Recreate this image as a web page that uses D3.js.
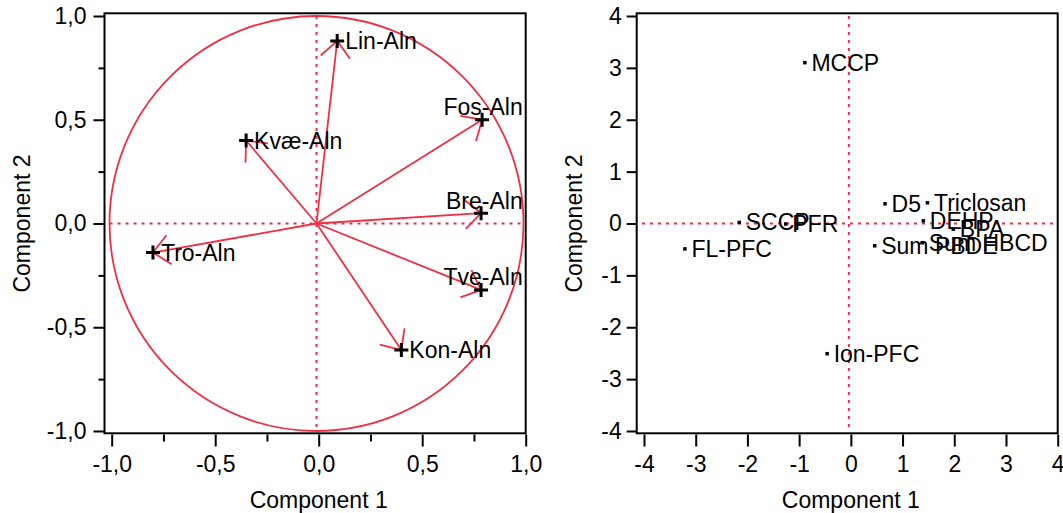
<!DOCTYPE html>
<html>
<head>
<meta charset="utf-8">
<script src="https://cdn.jsdelivr.net/npm/d3@7"></script>
<style>
  html, body { margin: 0; padding: 0; background: #fff; }
  svg { display: block; }
</style>
</head>
<body>
<script>
// ---------------- data ----------------
const loadingNames = ["Lin-Aln", "Fos-Aln", "Kvæ-Aln", "Bre-Aln", "Tro-Aln", "Tve-Aln", "Kon-Aln"];
const loadingPC1   = [0.10, 0.80, -0.34, 0.795, -0.79, 0.795, 0.41];
const loadingPC2   = [0.88, 0.50, 0.40, 0.05, -0.14, -0.32, -0.61];

const scoreNames = ["MCCP", "SCCP", "PFR", "FL-PFC", "D5", "Triclosan", "DEHP", "BPA", "Sum PBDE", "Sum HBCD", "Ion-PFC"];
const scorePC1   = [-0.85, -2.12, -1.22, -3.17, 0.70, 1.52, 1.44, 2.02, 0.50, 1.42, -0.42];
const scorePC2   = [3.10, 0.02, -0.01, -0.49, 0.38, 0.40, 0.05, -0.11, -0.43, -0.37, -2.51];

const loadTicks  = [-1, -0.5, 0, 0.5, 1];
const loadMinor  = [-0.75, -0.25, 0.25, 0.75];
const scoreTicks = [-4, -3, -2, -1, 0, 1, 2, 3, 4];
const xTitle = "Component 1";
const yTitle = "Component 2";

// ---------------- setup ----------------
const W = 1063, H = 513;
const FONT = "'Liberation Sans', Arial, Helvetica, sans-serif";
const RED = "#ee2f45";
const FS = 23;

const svg = d3.select("body").append("svg")
  .attr("width", W).attr("height", H)
  .style("font-family", FONT);
svg.append("rect").attr("width", W).attr("height", H).attr("fill", "#fff");

const commaFmt = d => d3.format(".1f")(d).replace(".", ",").replace("\u2212", "-");
const intFmt = d => d3.format("d")(d).replace("\u2212", "-");

function drawPanel(p) {
  const g = svg.append("g");
  g.append("rect")
    .attr("x", p.frame[0]).attr("y", p.frame[2])
    .attr("width", p.frame[1] - p.frame[0]).attr("height", p.frame[3] - p.frame[2])
    .attr("fill", "none").attr("stroke", "#000").attr("stroke-width", 2);

  g.append("g").attr("transform", `translate(0,${p.frame[3] + 1.2})`)
    .call(d3.axisBottom(p.x).tickValues(p.ticks).tickSize(12).tickPadding(9).tickFormat(p.fmt));
  if (p.minor) {
    g.append("g").attr("transform", `translate(0,${p.frame[3] + 1.2})`)
      .call(d3.axisBottom(p.x).tickValues(p.minor).tickSize(7).tickFormat(""));
  }
  g.append("g").attr("transform", `translate(${p.frame[0]},0)`)
    .call(d3.axisLeft(p.y).tickValues(p.ticks).tickSize(p.yTick).tickPadding(p.yPad).tickFormat(p.fmt));
  if (p.minor) {
    g.append("g").attr("transform", `translate(${p.frame[0]},0)`)
      .call(d3.axisLeft(p.y).tickValues(p.minor).tickSize(6).tickFormat(""));
  }
  g.selectAll(".domain").remove();
  g.selectAll(".tick line").attr("stroke", "#000").attr("stroke-width", 2);
  g.selectAll(".tick text").attr("fill", "#000").style("font-size", FS + "px").style("font-family", FONT);

  g.append("text").text(xTitle)
    .attr("x", p.x(0)).attr("y", 507.5).attr("text-anchor", "middle")
    .style("font-size", FS + "px").attr("fill", "#000");
  g.append("text").text(yTitle)
    .attr("transform", `translate(${p.yTitleX},${p.y(0)}) rotate(-90)`)
    .attr("text-anchor", "middle")
    .style("font-size", FS + "px").attr("fill", "#000");

  const d = g.append("g").attr("transform", `translate(${p.dx},0)`);
  d.append("line")
    .attr("x1", p.x(p.lim[0])).attr("x2", p.x(p.lim[1]))
    .attr("y1", p.y(0)).attr("y2", p.y(0))
    .attr("stroke", RED).attr("stroke-width", 2).attr("stroke-dasharray", "3,5");
  d.append("line")
    .attr("x1", p.x(0)).attr("x2", p.x(0))
    .attr("y1", p.y(p.lim[1])).attr("y2", p.y(p.lim[0]))
    .attr("stroke", RED).attr("stroke-width", 2).attr("stroke-dasharray", "3,5");
  return d;
}

// ---------------- left panel: loadings ----------------
const xL = d3.scaleLinear().domain([-1, 1]).range([111.7, 525.7]);
const yL = d3.scaleLinear().domain([-1, 1]).range([431, 16]);
const frameL = [104.5, 525.7, 13.3, 433.3];
const dL = drawPanel({ x: xL, y: yL, frame: frameL, ticks: loadTicks, minor: loadMinor,
  fmt: commaFmt, yTick: 11, yPad: 7, yTitleX: 29.5, dx: -2.2, lim: [-1, 1] });

dL.append("ellipse")
  .attr("cx", xL(0)).attr("cy", yL(0))
  .attr("rx", xL(1) - xL(0)).attr("ry", yL(0) - yL(1))
  .attr("fill", "none").attr("stroke", RED).attr("stroke-width", 1.8);

const loadings = loadingNames.map((n, i) => ({ name: n, x: loadingPC1[i], y: loadingPC2[i] }));
const headLen = 22, headAng = 42 * Math.PI / 180;
loadings.forEach(l => {
  const x1 = xL(0), y1 = yL(0), x2 = xL(l.x), y2 = yL(l.y);
  dL.append("line").attr("x1", x1).attr("y1", y1).attr("x2", x2).attr("y2", y2)
    .attr("stroke", RED).attr("stroke-width", 1.8);
  const a = Math.atan2(y1 - y2, x1 - x2);
  const path = d3.path();
  path.moveTo(x2 + headLen * Math.cos(a + headAng), y2 + headLen * Math.sin(a + headAng));
  path.lineTo(x2, y2);
  path.lineTo(x2 + headLen * Math.cos(a - headAng), y2 + headLen * Math.sin(a - headAng));
  dL.append("path").attr("d", path.toString()).attr("fill", "none")
    .attr("stroke", RED).attr("stroke-width", 1.8);
});
loadings.forEach(l => {
  const px = xL(l.x), py = yL(l.y);
  dL.append("path").attr("d", `M${px - 7},${py}H${px + 7}M${px},${py - 7}V${py + 7}`)
    .attr("stroke", "#000").attr("stroke-width", 3).attr("fill", "none");
  const t = dL.append("text").text(l.name)
    .style("font-size", FS + "px").attr("fill", "#000")
    .attr("x", px + 8).attr("y", py + 8);
  const w = t.node().getComputedTextLength();
  if (px - 2.2 + 8 + w > frameL[1] - 2) {
    t.attr("text-anchor", "end").attr("x", frameL[1] + 2.2 - 3).attr("y", py - 4.5);
  }
});

// ---------------- right panel: scores ----------------
const xR = d3.scaleLinear().domain([-4, 4]).range([644, 1057.7]);
const yR = d3.scaleLinear().domain([-4, 4]).range([431, 16]);
const frameR = [636.7, 1057.7, 13.3, 433.3];
const dR = drawPanel({ x: xR, y: yR, frame: frameR, ticks: scoreTicks, minor: null,
  fmt: intFmt, yTick: 10, yPad: 5, yTitleX: 581.7, dx: -2, lim: [-4, 4] });

const scores = scoreNames.map((n, i) => ({ name: n, x: scorePC1[i], y: scorePC2[i] }));
scores.forEach(s => {
  const px = xR(s.x), py = yR(s.y);
  dR.append("rect").attr("x", px - 1.75).attr("y", py - 1.75)
    .attr("width", 3.5).attr("height", 3.5).attr("fill", "#000");
  dR.append("text").text(s.name)
    .style("font-size", FS + "px").attr("fill", "#000")
    .attr("x", px + 6.5).attr("y", py + 8);
});
</script>
</body>
</html>
